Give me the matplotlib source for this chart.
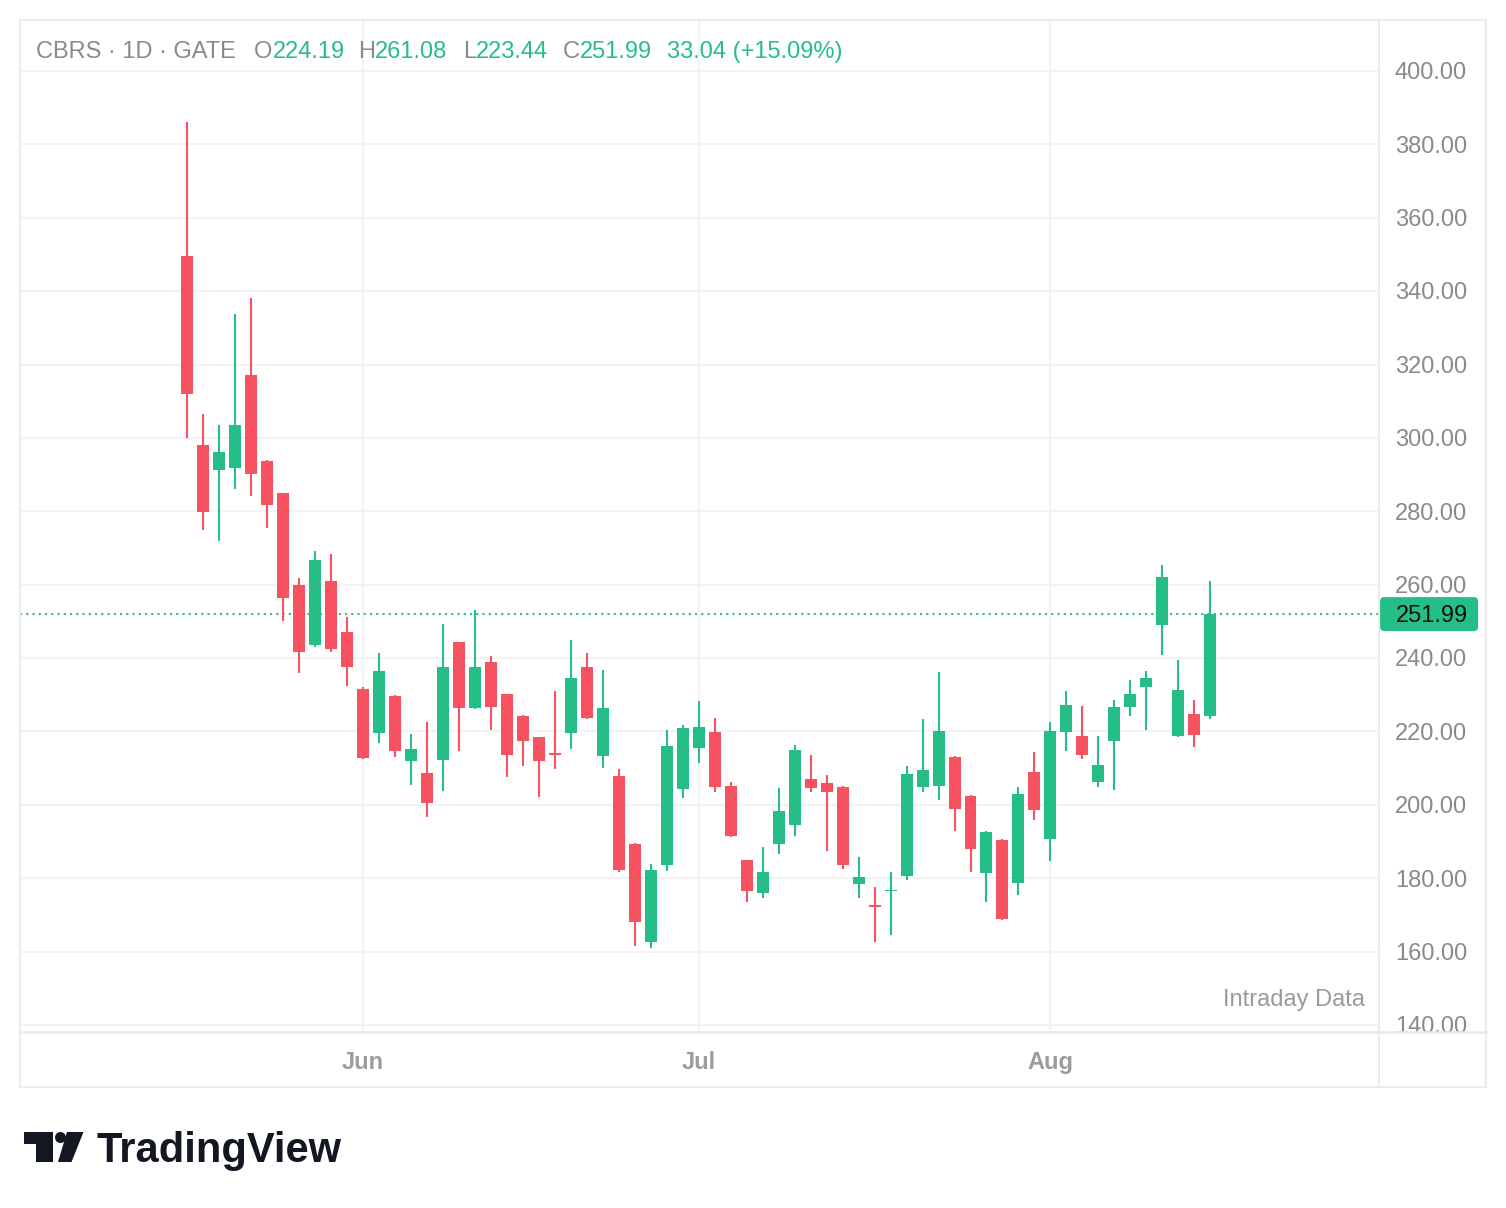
import matplotlib
matplotlib.use('Agg')
import matplotlib.pyplot as plt
from matplotlib.patches import Rectangle, Circle, Polygon, FancyBboxPatch

plt.rcParams['font.family'] = ['Liberation Sans', 'DejaVu Sans']

# daily OHLC, 65 trading days (mid May -> mid Aug)
opens = [349.6, 298.2, 291.2, 291.7, 317.2, 293.6, 285.0, 259.9, 243.6, 260.9,
         247.1, 231.7, 219.5, 229.8, 211.9, 208.6, 212.1, 244.3, 226.4, 238.8,
         230.1, 224.1, 218.4, 214.0, 219.5, 237.7, 213.3, 207.9, 189.4, 162.5,
         183.7, 204.2, 215.4, 219.9, 205.2, 185.0, 176.1, 189.2, 194.4, 207.1,
         206.0, 205.0, 178.3, 172.7, 176.4, 180.5, 205.0, 205.2, 213.1, 202.5,
         181.5, 190.5, 178.8, 209.0, 190.7, 219.8, 218.9, 206.3, 217.4, 226.6,
         232.1, 249.0, 218.7, 224.9, 224.19]
highs = [386.0, 306.6, 303.4, 333.8, 338.2, 294.0, 285.0, 261.9, 269.3, 268.5,
         251.2, 232.1, 241.5, 229.9, 219.4, 222.5, 249.4, 244.4, 253.2, 240.6,
         230.2, 224.5, 218.5, 230.9, 245.0, 241.5, 236.8, 209.7, 189.7, 183.8,
         220.5, 221.8, 228.4, 223.6, 206.1, 185.1, 188.5, 204.5, 216.3, 213.5,
         208.1, 205.2, 185.8, 177.5, 181.7, 210.6, 223.5, 236.3, 213.2, 202.6,
         193.0, 190.6, 205.0, 214.5, 222.5, 230.9, 226.9, 218.9, 228.6, 233.9,
         236.6, 265.3, 239.6, 228.6, 261.08]
lows = [300.0, 274.9, 272.0, 286.0, 284.1, 275.4, 250.2, 236.0, 243.1, 241.6,
        232.5, 212.5, 216.8, 213.0, 205.4, 196.7, 203.9, 214.8, 226.0, 220.3,
        207.7, 210.7, 202.1, 209.7, 215.2, 223.4, 210.1, 181.6, 161.5, 160.9,
        182.1, 201.8, 211.4, 203.6, 191.2, 173.4, 174.5, 186.5, 191.4, 203.4,
        187.3, 182.6, 174.7, 162.5, 164.6, 179.5, 203.4, 201.4, 193.0, 181.8,
        173.5, 168.7, 175.5, 195.9, 184.7, 214.7, 212.5, 204.8, 204.1, 224.2,
        220.5, 240.8, 218.5, 215.7, 223.44]
closes = [312.1, 279.7, 296.3, 303.6, 290.2, 281.7, 256.4, 241.6, 266.6, 242.5,
          237.6, 212.7, 236.6, 214.6, 215.1, 200.5, 237.7, 226.4, 237.7, 226.6,
          213.6, 217.5, 211.9, 213.6, 234.5, 223.6, 226.5, 182.3, 168.2, 182.3,
          216.1, 221.0, 221.3, 205.0, 191.5, 176.6, 181.7, 198.4, 215.0, 204.5,
          203.6, 183.7, 180.4, 172.3, 176.8, 208.5, 209.5, 220.0, 199.0, 188.1,
          192.6, 168.9, 203.0, 198.5, 220.0, 227.2, 213.5, 211.0, 226.8, 230.3,
          234.7, 262.0, 231.2, 218.95, 251.99]

month_labels = ['Jun', 'Jul', 'Aug']
month_index = [11, 32, 54]          # first trading day of each month
price_ticks = [140, 160, 180, 200, 220, 240, 260, 280, 300, 320, 340, 360, 380, 400]

last_close = closes[-1]
prev_close = closes[-2]

header = [('CBRS · 1D · GATE', None), ('O', opens[-1]), ('H', highs[-1]),
          ('L', lows[-1]), ('C', closes[-1])]

GREEN = '#26BE87'
RED = '#F7525F'
GRAY = '#8A8A8A'
GRID = '#F3F3F5'
BORDER = '#ECECEE'

W, H = 1506, 1208
fig = plt.figure(figsize=(W / 100, H / 100), dpi=100)


def box(x0, y0, x1, y1):
    # pixel box (top-left origin) -> figure fraction
    return [x0 / W, 1 - y1 / H, (x1 - x0) / W, (y1 - y0) / H]


# ---- main price pane
ax = fig.add_axes(box(20, 20, 1379, 1032))
ax.set_xlim(-10.45, 74.55)
ax.set_ylim(138.1, 413.9)
for s in ax.spines.values():
    s.set_visible(False)
ax.set_xticks([])
ax.set_yticks([])

for p in price_ticks:
    ax.axhline(p, color=GRID, lw=1.5, zorder=0)
for m in month_index:
    ax.axvline(m, color=GRID, lw=1.5, zorder=0)

n = len(closes)
for i in range(n):
    col = GREEN if closes[i] >= opens[i] else RED
    ax.vlines(i, lows[i], highs[i], color=col, lw=1.5, zorder=2)
    lo = min(opens[i], closes[i])
    hgt = max(abs(closes[i] - opens[i]), 0.35)
    ax.bar(i, hgt, bottom=lo, width=0.75, color=col, lw=0, zorder=3)

# last price dotted line
ax.axhline(last_close, color=GREEN, lw=1.5, linestyle=(0, (1, 2)), zorder=1)

ax.text(0.9895, 0.0255, 'Intraday Data', transform=ax.transAxes,
        ha='right', va='baseline', fontsize=17, color='#9A9A9A')

# ---- right price scale
axp = fig.add_axes(box(1379, 20, 1486, 1032))
axp.set_ylim(ax.get_ylim())
axp.set_xlim(0, 1)
axp.axis('off')
px_per_unit = (1032 - 20) / (413.9 - 138.1)
drop = 8.3 / px_per_unit           # baseline sits half a cap height below the tick
for p in price_ticks:
    axp.text(0.485, p - drop, '%.2f' % p, ha='center', va='baseline',
             fontsize=17, color=GRAY, clip_on=True)

tag_h = 34 / px_per_unit
tag = FancyBboxPatch((0.01, last_close - tag_h / 2), 0.916, tag_h,
                     boxstyle='round,pad=0,rounding_size=0.04',
                     mutation_aspect=29.2, fc=GREEN, ec='none', zorder=4)
axp.add_patch(tag)
axp.text(0.495, last_close - drop, '%.2f' % last_close, ha='center',
         va='baseline', fontsize=17, color='#111111', zorder=5)

# ---- time scale
axt = fig.add_axes(box(20, 1032, 1379, 1087))
axt.set_xlim(ax.get_xlim())
axt.set_ylim(0, 1)
axt.axis('off')
for lab, m in zip(month_labels, month_index):
    axt.text(m, 0.44, lab, ha='center', va='center', fontsize=17,
             fontweight='bold', color='#9C9C9C')

# ---- overlay in pixel units: frames, header, logo
ov = fig.add_axes([0, 0, 1, 1], facecolor='none')
ov.set_xlim(0, W)
ov.set_ylim(H, 0)
ov.axis('off')

ov.add_patch(Rectangle((20, 20), 1466, 1067, fill=False, ec=BORDER, lw=1.5))
ov.plot([1379, 1379], [20, 1087], color=BORDER, lw=1.5)
ov.plot([20, 1486], [1032, 1032], color='#E8E9F3', lw=1.8)

# header line
base = 58
ov.text(36, base, header[0][0], fontsize=17, color=GRAY, va='baseline')
starts = [254, 358, 463, 563]
for (letter, val), xs in zip(header[1:], starts):
    t = ov.text(xs, base, letter, fontsize=17, color=GRAY, va='baseline')
    ov.annotate('%.2f' % val, xy=(1, 0), xycoords=t, va='bottom',
                fontsize=17, color=GREEN)
chg = last_close - prev_close
ov.text(667, base, '%.2f (%+.2f%%)' % (chg, chg / prev_close * 100),
        fontsize=17, color=GREEN, va='baseline')

# TradingView logo
ov.add_patch(Polygon([(24, 1132), (53, 1132), (53, 1162), (36, 1162),
                      (36, 1144), (24, 1144)], closed=True, fc='#131722', ec='none'))
ov.add_patch(Circle((60.5, 1137.5), 5.5, fc='#131722', ec='none'))
ov.add_patch(Polygon([(67, 1132), (83.5, 1132), (71.5, 1162), (58, 1162)],
                     closed=True, fc='#131722', ec='none'))
ov.text(97, 1162, 'TradingView', fontsize=30, fontweight='bold',
        color='#131722', va='baseline')

fig.savefig('out.png', dpi=100, facecolor='white')
